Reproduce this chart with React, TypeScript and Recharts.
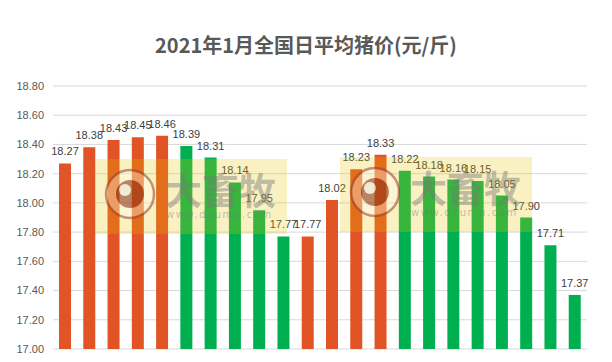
import { BarChart, Bar, Cell, XAxis, YAxis, CartesianGrid, LabelList } from "recharts";

const days = [
  "1", "2", "3", "4", "5", "6", "7", "8", "9", "10", "11",
  "12", "13", "14", "15", "16", "17", "18", "19", "20", "21", "22",
];
const prices = [
  18.27, 18.38, 18.43, 18.45, 18.46, 18.39, 18.31, 18.14, 17.95, 17.77, 17.77,
  18.02, 18.23, 18.33, 18.22, 18.18, 18.16, 18.15, 18.05, 17.9, 17.71, 17.37,
];
// up = orange, down = green
const trend = [
  "up", "up", "up", "up", "up", "down", "down", "down", "down", "down", "up",
  "up", "up", "up", "down", "down", "down", "down", "down", "down", "down", "down",
];
const yTicks = [17, 17.2, 17.4, 17.6, 17.8, 18, 18.2, 18.4, 18.6, 18.8];

const UP = "#E15426";
const DOWN = "#00B050";
const NUM_FONT = "'Liberation Sans', Arial, sans-serif";

const data = days.map((d, i) => ({ day: d, price: prices[i], trend: trend[i] }));

function Watermark({ left, top }: { left: number; top: number }) {
  return (
    <div style={{ position: "absolute", left, top, width: 192, height: 75, background: "rgba(228,196,0,0.24)", pointerEvents: "none" }}>
      <svg width={192} height={75} style={{ position: "absolute", left: 0, top: 0 }}>
        <g opacity={0.55}>
          <circle cx={35} cy={35} r={24} fill="rgba(255,255,255,0.6)" stroke="#a04030" strokeWidth={2.5} />
          <circle cx={35} cy={35} r={14} fill="#8a2a18" />
          <circle cx={30} cy={31} r={6} fill="#e8e8e8" />
        </g>
        <text x={70} y={46} fontSize={37} fontWeight={700} fill="rgba(120,120,120,0.45)"
          fontFamily="'Noto Sans CJK SC', sans-serif">大畜牧</text>
        <text x={71} y={59} fontSize={10} letterSpacing={1.6} fill="rgba(120,120,120,0.45)"
          fontFamily="'DejaVu Sans', sans-serif">www.dxumu.com</text>
      </svg>
    </div>
  );
}

export default function App() {
  return (
    <div style={{ position: "absolute", left: 0, top: 0, width: 612, height: 362, background: "#fff" }}>
      <div style={{
        position: "absolute", left: 0, top: 32, width: 612, textAlign: "center",
        fontFamily: "'Noto Sans CJK SC', sans-serif", fontWeight: 700, fontSize: 20, color: "#595959", lineHeight: "26px",
      }}>
        2021年1月全国日平均猪价(元/斤)
      </div>
      <BarChart width={612} height={362} data={data} margin={{ top: 86, right: 25, bottom: 13, left: 0 }} barSize={12}>
        <CartesianGrid stroke="#d9d9d9" vertical={false} />
        <XAxis dataKey="day" hide />
        <YAxis
          domain={[17, 18.8]}
          ticks={yTicks}
          width={53}
          axisLine={false}
          tickLine={false}
          tickSize={0}
          tickMargin={9}
          tickFormatter={(v: number) => v.toFixed(2)}
          tick={{ fontSize: 11, fill: "#595959", fontFamily: NUM_FONT }}
          allowDataOverflow
        />
        <Bar dataKey="price" isAnimationActive={false}>
          {data.map((d, i) => (
            <Cell key={i} fill={d.trend === "up" ? UP : DOWN} />
          ))}
          <LabelList
            dataKey="price"
            position="top"
            offset={8}
            formatter={(v: number) => v.toFixed(2)}
            style={{ fontSize: 11, fill: "#404040", fontFamily: NUM_FONT }}
          />
        </Bar>
      </BarChart>
      <Watermark left={95} top={159} />
      <Watermark left={340} top={157} />
    </div>
  );
}
